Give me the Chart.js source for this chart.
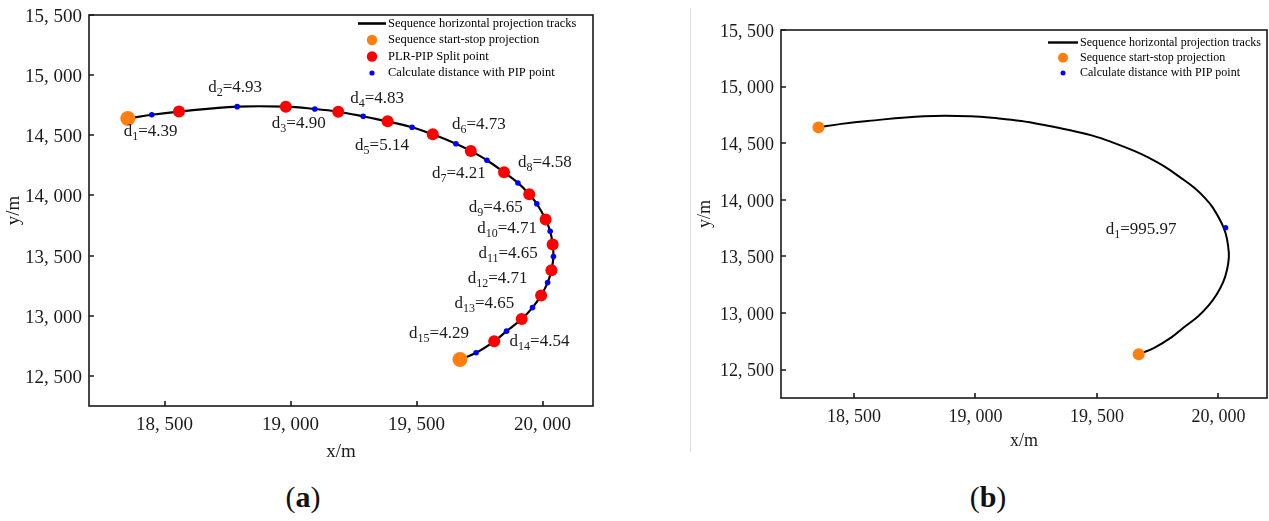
<!DOCTYPE html>
<html>
<head>
<meta charset="utf-8">
<script src="https://cdn.jsdelivr.net/npm/chart.js@4.4.1/dist/chart.umd.min.js"></script>
<style>
  html, body { margin: 0; padding: 0; background: #fff; }
  body { position: relative; width: 1269px; height: 521px; overflow: hidden; }
  canvas { position: absolute; top: 0; }
  #trackA { left: 0; }
  #trackB { left: 692px; }
  .divider { position: absolute; left: 690px; top: 8px; width: 1px; height: 444px; background: #dcdcdc; }
  .tag { position: absolute; top: 480px; height: 34px; line-height: 34px; text-align: center;
         font-family: "Liberation Serif", "Times New Roman", serif; font-size: 30px; color: #111; }
</style>
</head>
<body>
<canvas id="trackA" width="640" height="470"></canvas>
<div class="divider"></div>
<!-- a few px wider than the page so the right frame lands on the edge -->
<canvas id="trackB" width="581" height="470"></canvas>
<div class="tag" style="left:0;width:606px">(<b>a</b>)</div>
<div class="tag" style="left:692px;width:592px">(<b>b</b>)</div>

<script>
// ---- data (metres) ---------------------------------------------------------

// sequence start / stop projections
const ENDPOINT_X = [18354, 19672];
const ENDPOINT_Y = [14640, 12636];

// PLR-PIP split points, in order along the track
const SPLIT_X = [18557, 18981, 19189, 19385, 19564, 19715, 19847, 19947,
                 20012, 20040, 20035, 19994, 19917, 19808];
const SPLIT_Y = [14697, 14738, 14696, 14616, 14508, 14370, 14192, 14011,
                 13800, 13593, 13379, 13169, 12973, 12788];

// PIP points used for the distance check, one per segment
const PIP_X = [18449, 18788, 19096, 19288, 19482, 19656, 19779, 19902,
               19977, 20030, 20043, 20020, 19960, 19857, 19736];
const PIP_Y = [14671, 14738, 14719, 14658, 14567, 14430, 14293, 14104,
               13931, 13702, 13492, 13276, 13068, 12872, 12693];
const PIP_DIST = [4.39, 4.93, 4.90, 4.83, 5.14, 4.73, 4.21, 4.58,
                  4.65, 4.71, 4.65, 4.71, 4.65, 4.54, 4.29];

// single PIP point when the whole track is one segment
const WHOLE_PIP_X = [20030];
const WHOLE_PIP_Y = [13754];
const WHOLE_PIP_DIST = [995.97];

const X_TICKS = [18500, 19000, 19500, 20000];
const Y_TICKS = [12500, 13000, 13500, 14000, 14500, 15000, 15500];

// ---- helpers --------------------------------------------------------------

const SERIF = '"Liberation Serif", "Times New Roman", serif';
const ORANGE = '#ff7f0e';
const RED = '#ff0000';
const BLUE = '#0000ff';
const INK = '#1a1a1a';

const pts = (xs, ys) => xs.map((x, i) => ({ x, y: ys[i] }));

// track = start, pip, split, pip, split, ..., pip, stop
const TRACK = (() => {
  const out = [{ x: ENDPOINT_X[0], y: ENDPOINT_Y[0] }];
  PIP_X.forEach((x, i) => {
    out.push({ x, y: PIP_Y[i] });
    if (i < SPLIT_X.length) out.push({ x: SPLIT_X[i], y: SPLIT_Y[i] });
  });
  out.push({ x: ENDPOINT_X[1], y: ENDPOINT_Y[1] });
  return out;
})();

const fmtTick = v => Number(v).toLocaleString('en-US').replace(',', ', ');

// where each "d_i=" label sits relative to its PIP point (px: left, baseline)
const LABEL_OFFSETS_A = [
  [-28, 21], [-29, -15], [-43, 19], [-13, -13], [-57, 23], [-4, -15], [-55, 18], [0, -16],
  [-68, 8], [-73, 2], [-75, 1], [-80, 0], [-78, 0], [3, 15], [-67, -15]
];
const LABEL_OFFSETS_B = [[-120, 6]];

// box round the plot plus inward tick marks on the bottom and left axes
const framePlugin = {
  id: 'frame',
  afterDraw(chart, args, opts) {
    const { ctx, chartArea: a } = chart;
    const { x, y } = chart.scales;
    ctx.save();
    ctx.strokeStyle = INK;
    ctx.lineWidth = 1.6;
    ctx.strokeRect(a.left, a.top, a.right - a.left, a.bottom - a.top);
    ctx.beginPath();
    x.ticks.forEach(t => {
      const px = Math.round(x.getPixelForValue(t.value));
      ctx.moveTo(px, a.bottom);
      ctx.lineTo(px, a.bottom - opts.tick);
    });
    y.ticks.forEach(t => {
      const py = Math.round(y.getPixelForValue(t.value));
      ctx.moveTo(a.left, py);
      ctx.lineTo(a.left + opts.tick, py);
    });
    ctx.stroke();
    ctx.restore();
  }
};

// vertical legend inside the top-right corner of the plot
const trackLegend = {
  id: 'trackLegend',
  afterDraw(chart, args, opts) {
    const ctx = chart.ctx;
    const items = chart.data.datasets
      .filter(d => d.legendRank !== undefined)
      .sort((p, q) => p.legendRank - q.legendRank);
    ctx.save();
    ctx.font = `${opts.size}px ${SERIF}`;
    ctx.textBaseline = 'middle';
    items.forEach((ds, i) => {
      const cy = opts.top + i * opts.gap;
      if (ds.showLine) {
        ctx.strokeStyle = ds.borderColor;
        ctx.lineWidth = ds.borderWidth + 0.4;
        ctx.beginPath();
        ctx.moveTo(opts.lineFrom, cy);
        ctx.lineTo(opts.lineTo, cy);
        ctx.stroke();
      } else {
        ctx.fillStyle = ds.backgroundColor;
        ctx.beginPath();
        ctx.arc(opts.markX, cy, ds.legendRadius, 0, Math.PI * 2);
        ctx.fill();
      }
      ctx.fillStyle = '#000';
      ctx.fillText(ds.label, opts.textX, cy);
    });
    ctx.restore();
  }
};

// "d_i=value" next to each PIP point, subscript index
const distLabels = {
  id: 'distLabels',
  afterDatasetsDraw(chart, args, opts) {
    const ctx = chart.ctx;
    const meta = chart.getDatasetMeta(opts.datasetIndex);
    const big = `${opts.size}px ${SERIF}`;
    const small = `${Math.round(opts.size * 0.72)}px ${SERIF}`;
    ctx.save();
    ctx.fillStyle = INK;
    ctx.textBaseline = 'alphabetic';
    meta.data.forEach((el, i) => {
      const [dx, dy] = opts.offsets[i];
      let x = el.x + dx;
      const y = el.y + dy;
      ctx.font = big;
      ctx.fillText('d', x, y);
      x += ctx.measureText('d').width;
      ctx.font = small;
      const sub = String(i + 1);
      ctx.fillText(sub, x, y + opts.size * 0.24);
      x += ctx.measureText(sub).width;
      ctx.font = big;
      ctx.fillText('=' + opts.values[i].toFixed(2), x, y);
    });
    ctx.restore();
  }
};

// fixed axis boxes; drop the label overhang padding so the plot edges stay put
function axes(fontSize, xTitlePad, yTitlePad, xHeight) {
  const font = { family: SERIF, size: fontSize };
  return {
    x: {
      type: 'linear', min: 18200, max: 20200,
      afterBuildTicks: s => { s.ticks = X_TICKS.map(v => ({ value: v })); },
      afterFit: s => { s.height = xHeight; s.paddingLeft = 0; s.paddingRight = 0; },
      grid: { display: false, drawTicks: false },
      border: { display: false },
      ticks: { padding: 8, font, color: INK, maxRotation: 0, callback: fmtTick },
      title: { display: true, text: 'x/m', font, color: INK, padding: { top: 0, bottom: xTitlePad } }
    },
    y: {
      type: 'linear', min: 12250, max: 15500,
      afterBuildTicks: s => { s.ticks = Y_TICKS.map(v => ({ value: v })); },
      afterFit: s => { s.width = 89; s.paddingTop = 0; s.paddingBottom = 0; },
      grid: { display: false, drawTicks: false },
      border: { display: false },
      ticks: { padding: 7, labelOffset: 2, font, color: INK, callback: fmtTick },
      title: { display: true, text: 'y/m', font, color: INK, padding: { top: yTitlePad, bottom: 0 } }
    }
  };
}

const baseOptions = (layoutPad, scales, plugins) => ({
  responsive: false,
  animation: false,
  devicePixelRatio: 1,
  events: [],
  layout: { padding: layoutPad },
  scales,
  plugins: Object.assign({ legend: { display: false }, tooltip: { enabled: false } }, plugins)
});

const trackDataset = {
  label: 'Sequence horizontal projection tracks',
  data: TRACK,
  showLine: true,
  pointRadius: 0,
  borderColor: '#000',
  borderWidth: 2.2,
  tension: 0.4,
  legendRank: 0
};

// (a) track split into PLR-PIP segments
new Chart(document.getElementById('trackA'), {
  type: 'scatter',
  data: {
    datasets: [
      { label: 'Sequence start-stop projection', data: pts(ENDPOINT_X, ENDPOINT_Y),
        backgroundColor: ORANGE, borderWidth: 0, pointRadius: 7.5, legendRadius: 5.2, legendRank: 1 },
      { label: 'PLR-PIP Split point', data: pts(SPLIT_X, SPLIT_Y),
        backgroundColor: RED, borderWidth: 0, pointRadius: 6, legendRadius: 5.2, legendRank: 2 },
      { label: 'Calculate distance with PIP point', data: pts(PIP_X, PIP_Y),
        backgroundColor: BLUE, borderWidth: 0, pointRadius: 2.8, legendRadius: 2.6, legendRank: 3 },
      Object.assign({}, trackDataset)
    ]
  },
  options: baseOptions(
    { top: 15, right: 47, left: 0, bottom: 0 },
    axes(19, 7, 3, 64),
    {
      frame: { tick: 5 },
      trackLegend: { size: 12.5, top: 23.5, gap: 16.5, lineFrom: 358, lineTo: 386, markX: 372, textX: 388 },
      distLabels: { datasetIndex: 2, values: PIP_DIST, offsets: LABEL_OFFSETS_A, size: 17 }
    }
  ),
  plugins: [framePlugin, trackLegend, distLabels]
});

// (b) whole track treated as a single segment
new Chart(document.getElementById('trackB'), {
  type: 'scatter',
  data: {
    datasets: [
      { label: 'Sequence start-stop projection', data: pts(ENDPOINT_X, ENDPOINT_Y),
        backgroundColor: ORANGE, borderWidth: 0, pointRadius: 6, legendRadius: 5, legendRank: 1 },
      { label: 'Calculate distance with PIP point', data: pts(WHOLE_PIP_X, WHOLE_PIP_Y),
        backgroundColor: BLUE, borderWidth: 0, pointRadius: 2.6, legendRadius: 2.5, legendRank: 2 },
      Object.assign({}, trackDataset, { borderWidth: 2 })
    ]
  },
  options: baseOptions(
    { top: 30, right: 5, left: 0, bottom: 0 },
    axes(18, 18, 2, 72),
    {
      frame: { tick: 5 },
      trackLegend: { size: 12, top: 42.5, gap: 15.2, lineFrom: 356, lineTo: 386, markX: 371, textX: 388 },
      distLabels: { datasetIndex: 1, values: WHOLE_PIP_DIST, offsets: LABEL_OFFSETS_B, size: 17 }
    }
  ),
  plugins: [framePlugin, trackLegend, distLabels]
});
</script>
</body>
</html>
